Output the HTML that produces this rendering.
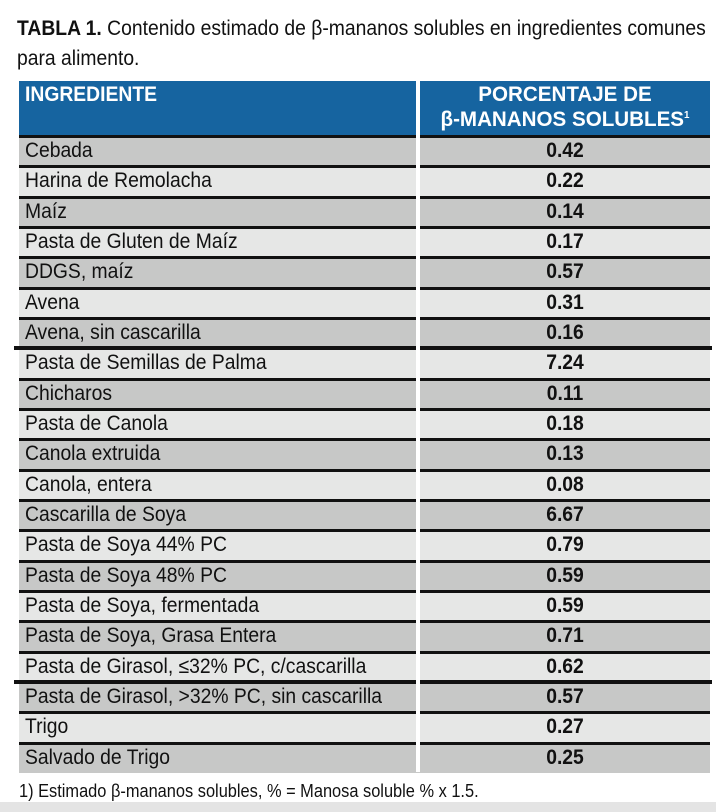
<!DOCTYPE html>
<html><head><meta charset="utf-8"><style>
body{margin:0;width:716px;height:812px;background:#fff;position:relative;overflow:hidden;font-family:"Liberation Sans",sans-serif;}
.n{position:absolute;white-space:nowrap;transform-origin:0 0;}
.c{position:absolute;white-space:nowrap;}
.row{position:absolute;left:19px;width:691px;height:30px;}
.sep{position:absolute;left:19px;width:691px;height:3px;background:#111;}
.vg{position:absolute;left:416px;width:4px;background:#fff;}
</style></head><body>
<div class="n" style="left:17px;top:16px;font-size:21px;color:#111;line-height:26px;transform:scaleX(0.92)"><b>TABLA 1.</b> Contenido estimado de β-mananos solubles en ingredientes comunes</div>
<div class="n" style="left:17px;top:46px;font-size:21px;color:#111;line-height:26px;transform:scaleX(0.92)">para alimento.</div>
<div style="position:absolute;left:19px;top:81px;width:691px;height:54px;background:#1664a0;"></div>
<div class="n" style="left:25px;top:83px;font-size:21px;font-weight:bold;color:#fff;transform:scaleX(0.92)">INGREDIENTE</div>
<div class="c" style="left:565px;top:83px;font-size:21px;font-weight:bold;color:#fff;transform:translateX(-50%) scaleX(0.98)">PORCENTAJE DE</div>
<div class="c" style="left:565px;top:108px;font-size:21px;font-weight:bold;color:#fff;transform:translateX(-50%) scaleX(0.98)">β-MANANOS SOLUBLES<sup style="font-size:10px">1</sup></div>
<div id="rows"></div>
<script>
var d=[["Cebada","0.42"],["Harina de Remolacha","0.22"],["Maíz","0.14"],["Pasta de Gluten de Maíz","0.17"],["DDGS, maíz","0.57"],["Avena","0.31"],["Avena, sin cascarilla","0.16"],["Pasta de Semillas de Palma","7.24"],["Chicharos","0.11"],["Pasta de Canola","0.18"],["Canola extruida","0.13"],["Canola, entera","0.08"],["Cascarilla de Soya","6.67"],["Pasta de Soya 44% PC","0.79"],["Pasta de Soya 48% PC","0.59"],["Pasta de Soya, fermentada","0.59"],["Pasta de Soya, Grasa Entera","0.71"],["Pasta de Girasol, ≤32% PC, c/cascarilla","0.62"],["Pasta de Girasol, >32% PC, sin cascarilla","0.57"],["Trigo","0.27"],["Salvado de Trigo","0.25"]];
var h="",y0=135,rh=30.33;
for(var i=0;i<d.length;i++){var y=y0+i*rh;var bg=i%2?"#e6e7e6":"#c7c8c7";
h+='<div class="row" style="top:'+y+'px;height:'+(rh+1)+'px;background:'+bg+'"></div>';
var thick=(i==7||i==18);
h+='<div class="sep" style="top:'+(y-(thick?1:0))+'px;height:'+(thick?4:3)+'px;'+(thick?'left:14px;width:698px;':'')+'"></div>';
h+='<div class="n" style="left:25px;top:'+(y+4)+'px;font-size:21px;color:#111;transform:scaleX(0.92)">'+d[i][0]+'</div>';
h+='<div class="c" style="left:565px;top:'+(y+4)+'px;font-size:21px;font-weight:bold;color:#111;transform:translateX(-50%) scaleX(0.92)">'+d[i][1]+'</div>';}
h+='<div class="vg" style="top:81px;height:'+(y0+21*rh-81)+'px"></div>';
document.getElementById("rows").innerHTML=h;
</script>
<div class="n" style="left:19px;top:781px;font-size:18px;color:#111;transform:scaleX(0.91)">1) Estimado β-mananos solubles, % = Manosa soluble % x 1.5.</div>
<div style="position:absolute;left:0;top:802px;width:716px;height:10px;background:#e4e4e4;"></div>
</body></html>
